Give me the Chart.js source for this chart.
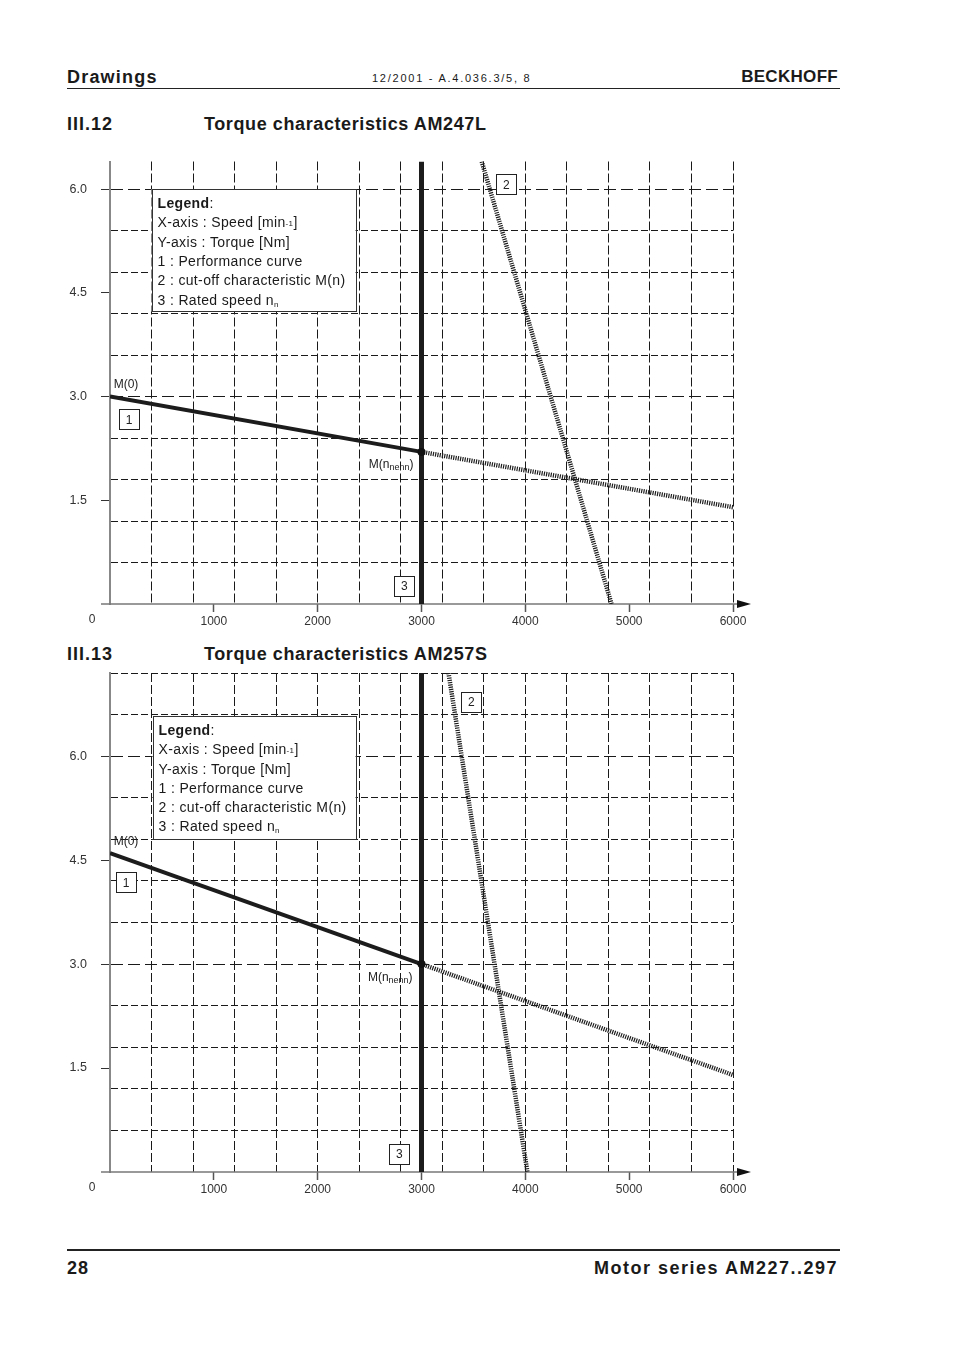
<!DOCTYPE html>
<html>
<head>
<meta charset="utf-8">
<title>Torque characteristics AM247L / AM257S</title>
<script src="https://cdn.jsdelivr.net/npm/chart.js@4.4.1/dist/chart.umd.min.js"></script>
<style>
  body { margin: 0; background: #fff; width: 954px; height: 1351px; position: relative; overflow: hidden;
         font-family: "Liberation Sans", Arial, sans-serif; color: #1a1a1a; }
  .t { position: absolute; white-space: nowrap; line-height: 1; }
  .head { font-weight: bold; font-size: 18px; letter-spacing: 1px; }
  .rule { position: absolute; left: 67px; width: 773px; background: #222; }
  canvas { position: absolute; left: 0; }
</style>
</head>
<body>
<div class="t head" style="left:67px; top:68px; letter-spacing:1.2px;">Drawings</div>
<div class="t" style="left:372px; top:73px; font-size:11px; letter-spacing:1.75px;">12/2001 - A.4.036.3/5, 8</div>
<div class="t head" style="right:116px; top:68px; font-size:17px; letter-spacing:0.3px;">BECKHOFF</div>
<div class="rule" style="top:88px; height:1px;"></div>

<div class="t head" style="left:67px; top:115px;">III.12</div>
<div class="t head" style="left:204px; top:115px; letter-spacing:0.6px;">Torque characteristics AM247L</div>
<canvas id="chartL" width="954" height="500" style="top:140px;"></canvas>

<div class="t head" style="left:67px; top:645px;">III.13</div>
<div class="t head" style="left:204px; top:645px; letter-spacing:0.6px;">Torque characteristics AM257S</div>
<canvas id="chartS" width="954" height="558" style="top:650px;"></canvas>

<div class="rule" style="top:1249px; height:2px;"></div>
<div class="t head" style="left:67px; top:1259px;">28</div>
<div class="t head" style="right:116px; top:1259px; letter-spacing:1.5px;">Motor series AM227..297</div>

<script>
// axis labels and grid lines
const xTickLabels = [1000, 2000, 3000, 4000, 5000, 6000];
const xGridLines = [400, 800, 1200, 1600, 2000, 2400, 2800, 3200, 3600, 4000, 4400, 4800, 5200, 5600, 6000];
const yTickLabels = [1.5, 3.0, 4.5, 6.0];
const yGridLinesL = [0.6, 1.2, 1.8, 2.4, 3.0, 3.6, 4.2, 4.8, 5.4, 6.0];
const yGridLinesS = [0.6, 1.2, 1.8, 2.4, 3.0, 3.6, 4.2, 4.8, 5.4, 6.0, 6.6, 7.2];

// AM247L
const lPerfSpeed = [0, 3000];
const lPerfTorque = [3.0, 2.2];
const lExtSpeed = [3000, 6000];
const lExtTorque = [2.2, 1.4];
const lCutSpeed = [3580, 4830];
const lCutTorque = [6.4, 0];
const lRatedSpeed = 3000;

// AM257S
const sPerfSpeed = [0, 3000];
const sPerfTorque = [4.6, 3.0];
const sExtSpeed = [3000, 6000];
const sExtTorque = [3.0, 1.4];
const sCutSpeed = [3260, 4020];
const sCutTorque = [7.2, 0];
const sRatedSpeed = 3000;

const legendLines = ['Legend', 'X-axis : Speed [min', 'Y-axis : Torque [Nm]', '1 : Performance curve',
  '2 : cut-off characteristic M(n)', '3 : Rated speed n'];

const FONT = '"Liberation Sans", Arial, sans-serif';

function near(list, v) {
  return list.some(function (w) { return Math.abs(w - v) < 1e-6; });
}

function pts(xs, ys) {
  return xs.map(function (x, i) { return { x: x, y: ys[i] }; });
}

// axis arrow, "0" label, legend box and the little callouts
const overlay = {
  id: 'overlay',
  beforeDatasetsDraw(chart) {
    const { ctx, chartArea: a } = chart;
    ctx.save();
    ctx.strokeStyle = '#777';
    ctx.lineWidth = 1.5;
    ctx.beginPath();
    ctx.moveTo(a.left - 9, a.bottom);
    ctx.lineTo(a.right + 6, a.bottom);
    ctx.stroke();
    ctx.fillStyle = '#111';
    ctx.beginPath();
    ctx.moveTo(a.right + 18, a.bottom);
    ctx.lineTo(a.right + 4, a.bottom - 4);
    ctx.lineTo(a.right + 4, a.bottom + 4);
    ctx.closePath();
    ctx.fill();
    ctx.restore();
  },
  afterDraw(chart, args, opts) {
    const { ctx, chartArea: a, scales: { x, y } } = chart;
    ctx.save();
    ctx.fillStyle = '#333';
    ctx.font = '12px ' + FONT;
    ctx.textAlign = 'center';
    ctx.textBaseline = 'middle';
    ctx.fillText('0', a.left - 18, a.bottom + 16);

    // legend box
    const lb = opts.legendBox;
    const bx = x.getPixelForValue(lb.x0), by = y.getPixelForValue(lb.y0);
    const bw = x.getPixelForValue(lb.x1) - bx, bh = y.getPixelForValue(lb.y1) - by;
    ctx.fillStyle = '#fff';
    ctx.fillRect(bx, by, bw, bh);
    ctx.strokeStyle = '#333';
    ctx.lineWidth = 1;
    ctx.strokeRect(Math.round(bx) + 0.5, Math.round(by) + 0.5, Math.round(bw), Math.round(bh));
    ctx.fillStyle = '#1a1a1a';
    ctx.textAlign = 'left';
    ctx.textBaseline = 'alphabetic';
    ctx.letterSpacing = '0.35px';
    let ty = by + 19;
    const tx = bx + 6;
    legendLines.forEach(function (line, i) {
      ctx.font = (i === 0 ? 'bold ' : '') + '14px ' + FONT;
      ctx.fillText(line, tx, ty);
      let w = ctx.measureText(line).width;
      if (i === 0) {
        ctx.font = '14px ' + FONT;
        ctx.fillText(':', tx + w, ty);
      } else if (i === 1) {
        ctx.font = '8px ' + FONT;
        ctx.fillText('-1', tx + w, ty - 1);
        const w2 = ctx.measureText('-1').width;
        ctx.font = '14px ' + FONT;
        ctx.fillText(']', tx + w + w2, ty);
      } else if (i === 5) {
        ctx.font = '8px ' + FONT;
        ctx.fillText('n', tx + w, ty + 2);
      }
      ty += 19.3;
    });
    ctx.letterSpacing = '0px';

    // callouts
    opts.notes.forEach(function (n) {
      const px = x.getPixelForValue(n.x), py = y.getPixelForValue(n.y);
      if (n.box) {
        ctx.fillStyle = '#fff';
        ctx.fillRect(px - 10, py - 10, 20, 20);
        ctx.strokeStyle = '#222';
        ctx.strokeRect(Math.round(px - 10) + 0.5, Math.round(py - 10) + 0.5, 20, 20);
        ctx.fillStyle = '#222';
        ctx.font = '12px ' + FONT;
        ctx.textAlign = 'center';
        ctx.textBaseline = 'middle';
        ctx.fillText(n.text, px, py + 1);
      } else {
        ctx.fillStyle = '#222';
        ctx.textBaseline = 'middle';
        ctx.textAlign = 'left';
        const parts = n.sub ? [[n.text, 12, 0], [n.sub, 9, 3], [')', 12, 0]] : [[n.text, 12, 0]];
        let total = 0;
        parts.forEach(function (p) { ctx.font = p[1] + 'px ' + FONT; total += ctx.measureText(p[0]).width; });
        let cx = px - total / 2;
        parts.forEach(function (p) {
          ctx.font = p[1] + 'px ' + FONT;
          ctx.fillText(p[0], cx, py + p[2]);
          cx += ctx.measureText(p[0]).width;
        });
      }
    });
    ctx.restore();
  }
};

function makeChart(id, d) {
  const yGrid = d.yGrid;
  const yTicks = yGrid.concat(yTickLabels.filter(function (v) { return !near(yGrid, v); }))
    .sort(function (p, q) { return p - q; });
  const xTicks = xGridLines.concat(xTickLabels.filter(function (v) { return !near(xGridLines, v); }))
    .sort(function (p, q) { return p - q; });
  const hatch = { borderColor: '#1e1e1e', borderWidth: 4.5, borderDash: [1.2, 1.1], pointRadius: 0, fill: false };

  return new Chart(document.getElementById(id), {
    type: 'line',
    data: {
      datasets: [
        { data: pts(d.perfSpeed, d.perfTorque), borderColor: '#1c1c1c', borderWidth: 4,
          pointRadius: [0, 4], pointBackgroundColor: '#111', pointBorderWidth: 0, fill: false },
        Object.assign({ data: pts(d.extSpeed, d.extTorque) }, hatch),
        Object.assign({ data: pts(d.cutSpeed, d.cutTorque) }, hatch),
        { data: [{ x: d.rated, y: 0 }, { x: d.rated, y: d.yMax }], borderColor: '#1c1c1c',
          borderWidth: 5, pointRadius: 0, fill: false }
      ]
    },
    options: {
      responsive: false,
      animation: false,
      layout: { padding: { left: 0, right: 221, top: d.padTop, bottom: 0 } },
      plugins: {
        legend: { display: false },
        tooltip: { enabled: false },
        overlay: { legendBox: d.legendBox, notes: d.notes }
      },
      scales: {
        x: {
          type: 'linear',
          min: 0,
          max: 6000,
          afterFit: function (s) { s.height = 36; },
          afterBuildTicks: function (s) { s.ticks = xTicks.map(function (v) { return { value: v }; }); },
          border: {
            display: false,
            dash: function () { return [9, 3]; }
          },
          grid: {
            color: function (c) { return c.tick && near(xGridLines, c.tick.value) ? '#1a1a1a' : 'transparent'; },
            lineWidth: 1,
            tickLength: 8,
            tickColor: function (c) { return c.tick && near(xTickLabels, c.tick.value) ? '#555' : 'transparent'; },
            tickWidth: 1.5
          },
          ticks: {
            autoSkip: false,
            maxRotation: 0,
            padding: 2,
            color: '#333',
            font: { family: FONT, size: 12 },
            callback: function (v) { return near(xTickLabels, v) ? String(v) : ''; }
          }
        },
        y: {
          type: 'linear',
          min: 0,
          max: d.yMax,
          afterFit: function (s) { s.width = 110; },
          afterBuildTicks: function (s) { s.ticks = yTicks.map(function (v) { return { value: v }; }); },
          border: {
            display: true,
            color: '#888',
            width: 2,
            dash: function (c) {
              if (!c.tick) return [];
              return near(yTickLabels, c.tick.value) ? [12, 5] : [7, 3];
            }
          },
          grid: {
            color: function (c) { return c.tick && near(yGrid, c.tick.value) ? '#1a1a1a' : 'transparent'; },
            lineWidth: 1,
            tickLength: 9,
            tickColor: function (c) { return c.tick && near(yTickLabels, c.tick.value) ? '#333' : 'transparent'; },
            tickWidth: 1
          },
          ticks: {
            autoSkip: false,
            padding: 14,
            color: '#333',
            font: { family: FONT, size: 12.5 },
            callback: function (v) { return near(yTickLabels, v) ? v.toFixed(1) : ''; }
          }
        }
      }
    },
    plugins: [overlay]
  });
}

makeChart('chartL', {
  yMax: 6.4, padTop: 20, yGrid: yGridLinesL,
  perfSpeed: lPerfSpeed, perfTorque: lPerfTorque, extSpeed: lExtSpeed, extTorque: lExtTorque,
  cutSpeed: lCutSpeed, cutTorque: lCutTorque, rated: lRatedSpeed,
  legendBox: { x0: 400, y0: 6.0, x1: 2365, y1: 4.23 },
  notes: [
    { x: 154, y: 3.17, text: 'M(0)' },
    { x: 183, y: 2.67, text: '1', box: true },
    { x: 2708, y: 2.02, text: 'M(n', sub: 'nenn' },
    { x: 3817, y: 6.07, text: '2', box: true },
    { x: 2834, y: 0.26, text: '3', box: true }
  ]
});

makeChart('chartS', {
  yMax: 7.2, padTop: 23, yGrid: yGridLinesS,
  perfSpeed: sPerfSpeed, perfTorque: sPerfTorque, extSpeed: sExtSpeed, extTorque: sExtTorque,
  cutSpeed: sCutSpeed, cutTorque: sCutTorque, rated: sRatedSpeed,
  legendBox: { x0: 410, y0: 6.58, x1: 2365, y1: 4.8 },
  notes: [
    { x: 154, y: 4.76, text: 'M(0)' },
    { x: 154, y: 4.18, text: '1', box: true },
    { x: 2699, y: 2.80, text: 'M(n', sub: 'nenn' },
    { x: 3480, y: 6.78, text: '2', box: true },
    { x: 2786, y: 0.26, text: '3', box: true }
  ]
});
</script>
</body>
</html>
